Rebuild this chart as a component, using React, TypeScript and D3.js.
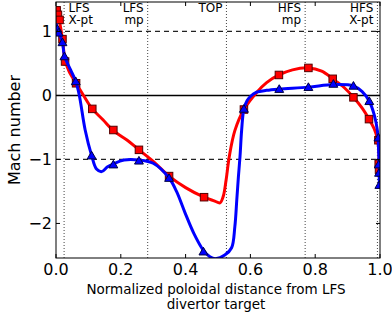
import * as d3 from 'd3';

// Red (squares) model curve
const redLineX = [0.0, 0.005, 0.01, 0.02, 0.028, 0.04, 0.062, 0.085, 0.112, 0.145, 0.177, 0.22, 0.256, 0.3, 0.349, 0.4, 0.457, 0.49, 0.506, 0.516, 0.525, 0.535, 0.552, 0.58, 0.62, 0.65, 0.688, 0.73, 0.779, 0.82, 0.854, 0.89, 0.918, 0.945, 0.966, 0.982, 0.992, 0.996, 0.998];
const redLineY = [1.36, 1.29, 1.18, 0.88, 0.55, 0.38, 0.19, 0.0, -0.21, -0.38, -0.55, -0.7, -0.85, -1.03, -1.26, -1.44, -1.59, -1.65, -1.68, -1.58, -1.32, -0.95, -0.55, -0.22, 0.05, 0.2, 0.32, 0.4, 0.43, 0.38, 0.26, 0.12, -0.03, -0.2, -0.37, -0.52, -0.68, -0.85, -1.1];
const redMarkX = [0.002, 0.006, 0.011, 0.02, 0.028, 0.062, 0.112, 0.177, 0.256, 0.349, 0.457, 0.58, 0.688, 0.779, 0.854, 0.918, 0.966, 0.995, 0.996, 0.997];
const redMarkY = [1.33, 1.26, 1.18, 0.88, 0.53, 0.19, -0.21, -0.54, -0.85, -1.26, -1.59, -0.22, 0.32, 0.43, 0.26, -0.03, -0.37, -0.7, -1.07, -1.16];

// Blue (triangles) model curve
const blueLineX = [0.0, 0.004, 0.01, 0.02, 0.026, 0.045, 0.061, 0.072, 0.09, 0.11, 0.125, 0.141, 0.158, 0.177, 0.21, 0.256, 0.3, 0.349, 0.372, 0.398, 0.425, 0.455, 0.475, 0.492, 0.522, 0.542, 0.552, 0.558, 0.563, 0.568, 0.573, 0.58, 0.59, 0.599, 0.619, 0.65, 0.689, 0.779, 0.856, 0.918, 0.945, 0.967, 0.982, 0.992, 0.996, 0.998];
const blueLineY = [1.12, 1.05, 0.97, 0.83, 0.62, 0.4, 0.22, 0.0, -0.54, -0.94, -1.15, -1.19, -1.12, -1.07, -1.01, -1.01, -1.06, -1.29, -1.5, -1.83, -2.15, -2.42, -2.52, -2.55, -2.49, -2.38, -2.05, -1.63, -1.27, -0.95, -0.54, -0.21, -0.08, -0.02, 0.05, 0.08, 0.1, 0.13, 0.17, 0.15, 0.06, -0.09, -0.3, -0.55, -0.9, -1.4];
const blueMarkX = [0.004, 0.008, 0.02, 0.026, 0.061, 0.11, 0.177, 0.256, 0.349, 0.455, 0.58, 0.689, 0.779, 0.856, 0.918, 0.967, 0.995, 0.996, 0.997, 0.998];
const blueMarkY = [1.04, 0.98, 0.83, 0.61, 0.22, -0.94, -1.08, -1.02, -1.29, -2.44, -0.21, 0.1, 0.13, 0.18, 0.15, -0.09, -0.66, -1.08, -1.21, -1.4];

// Location markers (vertical dotted lines)
const locX = [0.025, 0.283, 0.526, 0.769, 0.992];
const locLabels = [['LFS', 'X-pt'], ['LFS', 'mp'], ['TOP'], ['HFS', 'mp'], ['HFS', 'X-pt']];
const locAnchor = ['start', 'end', 'end', 'end', 'end'];

const xTicks = [0, 0.2, 0.4, 0.6, 0.8, 1.0];
const yTicks = [1, 0, -1, -2];
const dashedY = [1, -1];

const W = 392;
const H = 320;
const margin = { top: 2, right: 12, bottom: 62, left: 56 };
const FONT = 'DejaVu Sans, sans-serif';

export default function App() {
  const x = d3.scaleLinear().domain([0, 1]).range([margin.left, W - margin.right]);
  const y = d3.scaleLinear().domain([-2.54, 1.46]).range([H - margin.bottom, margin.top]);
  const [x0, x1] = x.range();
  const [y0, y1] = [margin.top, H - margin.bottom];

  const line = d3.line<[number, number]>()
    .x(d => x(d[0]))
    .y(d => y(d[1]))
    .curve(d3.curveCatmullRom.alpha(0.5));

  const redPts = redLineX.map((v, i) => [v, redLineY[i]] as [number, number]);
  const bluePts = blueLineX.map((v, i) => [v, blueLineY[i]] as [number, number]);

  const sq = 7.5;
  const tri = d3.symbol().type(d3.symbolTriangle).size(34)() || '';
  const fmtY = (v: number) => (v < 0 ? '\u2212' + Math.abs(v) : String(v));

  return (
    <svg width={W} height={H} style={{ position: 'absolute', left: 0, top: 0, background: '#fff' }} fontFamily={FONT}>
      <defs>
        <clipPath id="plot">
          <rect x={x0} y={y0} width={x1 - x0} height={y1 - y0} />
        </clipPath>
      </defs>

      <g clipPath="url(#plot)">
        {locX.map((v, i) => (
          <line key={'v' + i} x1={x(v)} x2={x(v)} y1={y0} y2={y1} stroke="#444" strokeWidth={1} strokeDasharray="1,2" />
        ))}
        {dashedY.map((v, i) => (
          <line key={'d' + i} x1={x0} x2={x1} y1={y(v)} y2={y(v)} stroke="#222" strokeWidth={1.2} strokeDasharray="5,4" />
        ))}
        <line x1={x0} x2={x1} y1={y(0)} y2={y(0)} stroke="#000" strokeWidth={1.5} />

        <path d={line(redPts) || ''} fill="none" stroke="#ff0000" strokeWidth={3} strokeLinejoin="round" />
        {redMarkX.map((v, i) => (
          <rect key={'r' + i} x={x(v) - sq / 2} y={y(redMarkY[i]) - sq / 2} width={sq} height={sq}
            fill="#ff0000" stroke="#550000" strokeWidth={1} />
        ))}

        <path d={line(bluePts) || ''} fill="none" stroke="#0000ff" strokeWidth={3} strokeLinejoin="round" />
        {blueMarkX.map((v, i) => (
          <path key={'b' + i} d={tri} transform={`translate(${x(v)},${y(blueMarkY[i]) + 0.8})`}
            fill="#0000ff" stroke="#000044" strokeWidth={1} />
        ))}
      </g>

      {/* frame */}
      <rect x={x0} y={y0} width={x1 - x0} height={y1 - y0} fill="none" stroke="#000" strokeWidth={1} />

      {/* inward ticks */}
      {xTicks.map((v, i) => (
        <g key={'xt' + i}>
          <line x1={x(v)} x2={x(v)} y1={y1} y2={y1 - 4} stroke="#000" />
          <line x1={x(v)} x2={x(v)} y1={y0} y2={y0 + 4} stroke="#000" />
          <text x={x(v)} y={y1 + 17} textAnchor="middle" fontSize={16} fill="#000">{v.toFixed(1)}</text>
        </g>
      ))}
      {yTicks.map((v, i) => (
        <g key={'yt' + i}>
          <line x1={x0} x2={x0 + 4} y1={y(v)} y2={y(v)} stroke="#000" />
          <line x1={x1} x2={x1 - 4} y1={y(v)} y2={y(v)} stroke="#000" />
          <text x={x0 - 4} y={y(v)} dy="0.36em" textAnchor="end" fontSize={16} fill="#000">{fmtY(v)}</text>
        </g>
      ))}

      {/* location labels */}
      {locX.map((v, i) => (
        <text key={'l' + i} fontSize={12} fill="#000" textAnchor={locAnchor[i]}
          x={locAnchor[i] === 'start' ? x(v) + 4.5 : x(v) - 4}>
          {locLabels[i].map((s, j) => (
            <tspan key={j} x={locAnchor[i] === 'start' ? x(v) + 4.5 : x(v) - 4} y={11.5 + j * 12.5}>{s}</tspan>
          ))}
        </text>
      ))}

      {/* axis titles */}
      <text transform={`translate(20,${(y0 + y1) / 2}) rotate(-90)`} textAnchor="middle" fontSize={16} fill="#000">Mach number</text>
      <text x={(x0 + x1) / 2 - 2} y={294} textAnchor="middle" fontSize={13.5} fill="#000">Normalized poloidal distance from LFS</text>
      <text x={(x0 + x1) / 2 - 2} y={309} textAnchor="middle" fontSize={13.5} fill="#000">divertor target</text>
    </svg>
  );
}
